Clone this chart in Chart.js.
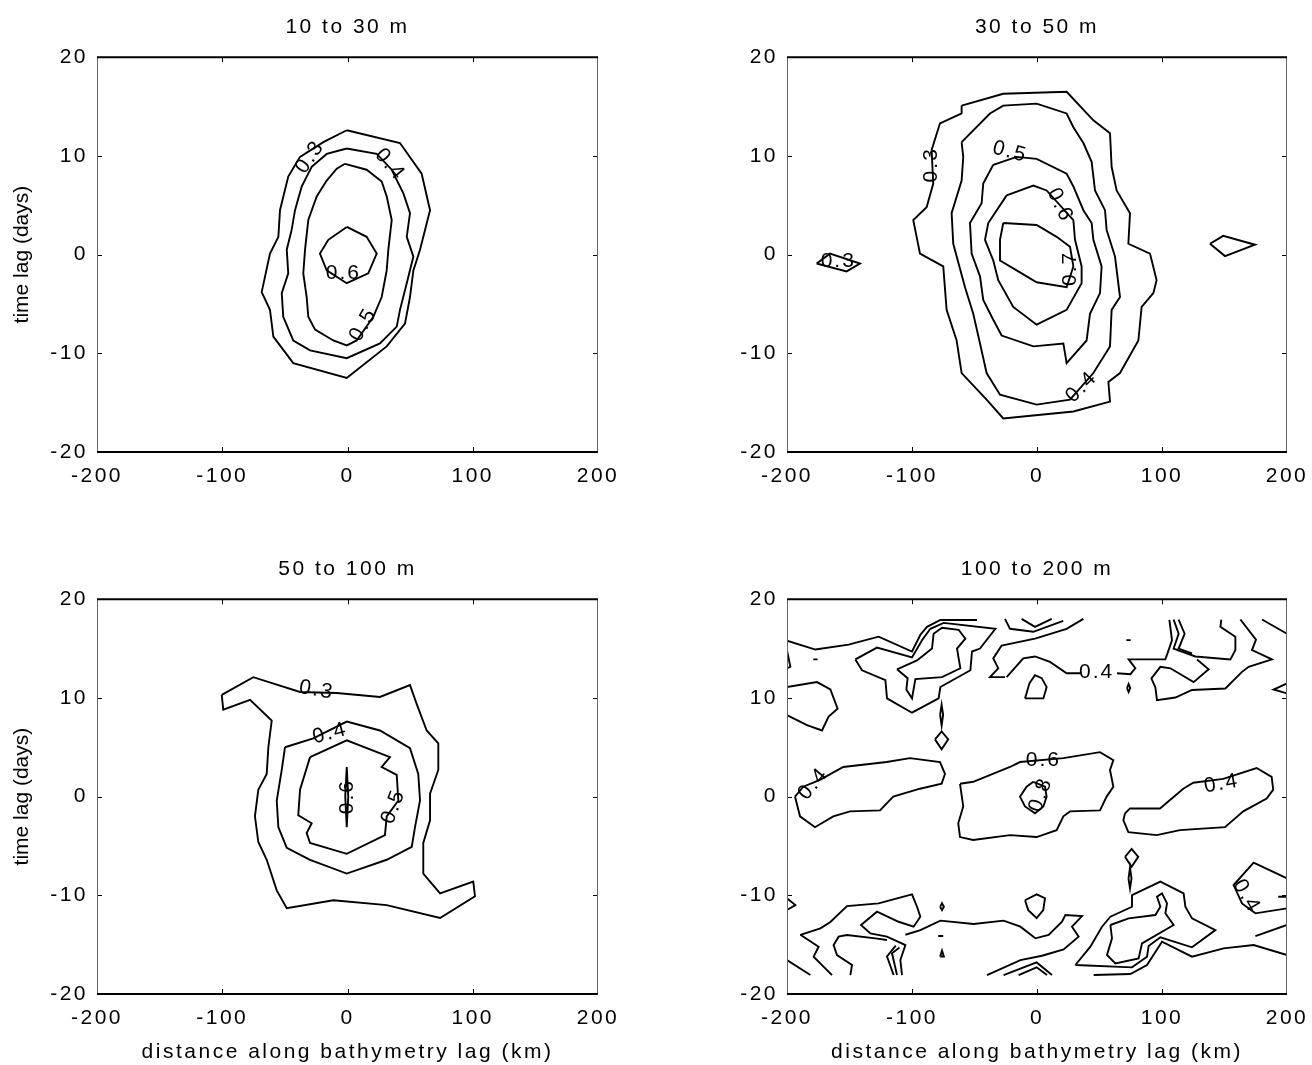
<!DOCTYPE html>
<html>
<head>
<meta charset="utf-8">
<script src="https://cdn.jsdelivr.net/npm/chart.js@4.4.1/dist/chart.umd.min.js"></script>
<style>
body { margin: 0; background: #fff; }
#wrap { position: relative; width: 1312px; height: 1065px; }
canvas { position: absolute; }
</style>
</head>
<body>
<div id="wrap">
  <canvas id="c1" style="left:0;top:0;width:620px;height:542px" width="620" height="542"></canvas>
  <canvas id="c2" style="left:690px;top:0;width:622px;height:542px" width="622" height="542"></canvas>
  <canvas id="c3" style="left:0;top:542px;width:620px;height:523px" width="620" height="523"></canvas>
  <canvas id="c4" style="left:690px;top:542px;width:622px;height:523px" width="622" height="523"></canvas>
</div>
<script>
// axis ticks
const xTicks = [-200, -100, 0, 100, 200];
const yTicks = [-20, -10, 0, 10, 20];
const titles = ["10 to 30 m", "30 to 50 m", "50 to 100 m", "100 to 200 m"];

// 10 to 30 m contours [lag km, lag days]
const p1_03 = [[-0.6,12.6],[41.9,11.3],[59.2,8.2],[65.9,4.5],[57.9,0.5],[52.6,-1.6],[49.9,-4.3],[45.9,-7.0],[31.3,-9.3],[-0.6,-12.5],[-43.3,-11.0],[-59.2,-8.3],[-61.9,-5.6],[-68.5,-3.8],[-61.9,0.1],[-55.2,1.8],[-53.9,4.5],[-47.3,7.9],[-37.9,9.9],[-19.3,11.4],[-0.6,12.6]];
const p1_04 = [[-0.6,10.75],[23.3,10.2],[35.3,8.6],[44.6,6.2],[49.9,4.2],[47.3,1.8],[52.6,-0.2],[47.3,-2.9],[41.9,-5.6],[39.3,-7.3],[25.9,-9.0],[-0.6,-10.5],[-29.9,-9.7],[-43.3,-8.7],[-51.3,-6.3],[-52.5,-3.9],[-47.3,-1.9],[-48.5,0.5],[-44.6,2.5],[-41.9,4.5],[-36.6,6.9],[-28.6,8.9],[-16.6,10.2],[-0.6,10.75]];
const p1_05 = [[-2.0,9.2],[15.3,8.6],[27.3,7.4],[31.3,5.9],[35.3,3.5],[32.6,0.5],[31.3,-1.6],[27.3,-4.3],[20.6,-6.3],[7.3,-8.7],[-0.6,-9.2],[-11.3,-8.7],[-25.9,-7.6],[-31.3,-6.3],[-32.6,-4.3],[-35.3,-1.9],[-33.9,0.5],[-31.3,3.5],[-24.6,5.9],[-16.6,7.5],[-8.6,8.7],[-2.0,9.2]];
const p1_06 = [[-0.6,2.8],[15.3,1.8],[23.3,0.1],[16.6,-1.9],[-0.6,-2.9],[-16.6,-1.6],[-22.0,0.1],[-15.3,1.5],[-0.6,2.8]];
const p1_labels = [["0.3",-29.9,9.9,-55],["0.4",33.9,9.1,50],["0.6",-3.3,-1.9,0],["0.5",12.6,-7.1,-60]];

// 30 to 50 m
const p2_03 = [[-60.3,15.1],[-27.0,16.3],[23.7,16.5],[45.1,13.6],[58.4,12.3],[59.7,8.9],[63.7,6.5],[74.4,4.2],[73.1,1.1],[90.4,0.1],[95.7,-2.6],[93.1,-3.9],[83.7,-5.3],[81.1,-8.7],[66.4,-12.0],[57.1,-12.9],[58.4,-14.9],[29.1,-15.9],[-27.0,-16.6],[-40.3,-14.7],[-60.3,-12.0],[-64.3,-8.7],[-72.3,-5.6],[-75.0,-1.2],[-93.6,0.1],[-96.3,1.8],[-99.0,3.5],[-88.3,4.8],[-83.0,7.2],[-84.3,10.6],[-77.6,13.3],[-60.3,14.3],[-60.3,15.1]];
const p2_03w = [[-176.3,-0.9],[-165.6,0.1],[-141.6,-0.9],[-152.3,-1.7],[-176.3,-0.9]];
const p2_03e = [[138.4,1.1],[149.0,1.9],[174.4,1.0],[150.4,-0.15],[138.4,1.1]];
const p2_04 = [[-60.3,11.4],[-37.6,14.3],[-27.0,15.1],[-0.3,15.3],[23.7,14.3],[29.1,12.9],[37.1,11.3],[43.7,9.4],[46.4,6.5],[54.4,4.5],[55.7,2.5],[62.4,-0.2],[66.4,-4.3],[59.7,-5.6],[58.4,-9.3],[45.1,-12.0],[26.4,-14.7],[-0.3,-15.2],[-29.6,-14.2],[-40.3,-12.0],[-45.6,-9.0],[-51.0,-6.0],[-57.6,-3.3],[-67.0,1.1],[-68.3,4.2],[-60.3,7.5],[-59.0,9.9],[-60.3,11.4]];
const p2_05 = [[-35.0,9.1],[-16.3,9.9],[-0.3,9.7],[23.7,8.2],[29.1,6.9],[37.1,4.5],[43.7,3.2],[45.1,1.5],[51.7,-1.2],[50.4,-3.9],[42.4,-6.0],[39.7,-8.7],[23.7,-11.0],[21.1,-9.0],[-2.9,-9.3],[-28.3,-8.2],[-35.0,-6.6],[-43.0,-4.6],[-45.6,-2.2],[-52.3,0.1],[-53.6,3.2],[-44.3,5.2],[-43.0,7.2],[-35.0,9.1]];
const p2_06 = [[-24.3,6.0],[-2.9,7.0],[7.7,6.5],[29.1,3.5],[30.4,1.5],[35.7,-1.2],[35.7,-2.9],[23.7,-5.6],[-0.3,-7.1],[-19.0,-5.3],[-31.0,-2.6],[-35.0,-0.6],[-41.6,1.5],[-39.0,3.2],[-24.3,6.0]];
const p2_07 = [[-27.0,3.2],[-0.3,3.0],[15.7,1.8],[26.4,0.8],[29.1,-1.2],[23.7,-3.3],[-0.3,-2.8],[-16.3,-1.6],[-29.6,-0.6],[-29.6,1.5],[-27.0,3.2]];
const p2_labels = [["0.3",-84.3,9.1,-90],["0.5",-21.6,10.4,15],["0.6",18.4,5.0,65],["0.7",26.4,-1.4,-90],["0.4",35.7,-13.4,-45],["0.3",-159,-0.7,0]];

// 50 to 100 m
const p3_03 = [[-100.4,10.3],[-75.2,12.1],[-37.9,10.6],[-8.6,10.5],[25.9,10.1],[49.9,11.3],[55.2,9.4],[63.2,6.7],[72.5,5.4],[72.5,2.7],[65.9,0.3],[65.9,-2.4],[60.5,-4.7],[60.5,-7.8],[73.9,-9.8],[100.4,-8.6],[101.8,-10.1],[73.9,-12.3],[31.3,-11.0],[-11.3,-10.5],[-48.5,-11.3],[-56.5,-9.5],[-64.5,-6.4],[-71.2,-4.6],[-73.9,-2.0],[-71.2,0.7],[-64.5,2.3],[-63.2,5.0],[-60.5,7.7],[-77.8,9.8],[-99.2,8.8],[-100.4,10.3]];
const p3_04 = [[-49.9,5.0],[-27.3,5.9],[-0.6,7.6],[25.9,6.7],[49.9,4.9],[56.5,2.3],[57.9,-0.4],[53.9,-3.1],[51.3,-5.1],[31.3,-6.4],[-0.6,-7.8],[-29.9,-6.4],[-48.5,-5.2],[-55.2,-3.1],[-56.5,-0.4],[-52.5,2.7],[-49.9,5.0]];
const p3_05 = [[-29.9,4.0],[-0.6,5.7],[33.9,4.0],[27.3,3.0],[39.3,2.2],[40.6,-0.4],[31.3,-2.0],[29.9,-3.9],[-0.6,-5.8],[-29.9,-4.7],[-32.6,-3.7],[-28.6,-2.7],[-39.3,-1.9],[-37.9,0.7],[-29.9,4.0]];
const p3_06 = [[-0.6,3.0],[0.6,0.0],[-0.6,-3.1],[-1.8,0.0],[-0.6,3.0]];
const p3_labels = [["0.3",-24.6,10.8,10],["0.4",-14,6.4,-15],["0.5",36.6,-1.0,-70],["0.6",-0.6,0,-90]];

// 100 to 200 m
const p4_a = [[-200,15.8],[-177.3,14.9],[-150.7,15.4],[-126.7,16.2],[-100,14.7],[-93.3,16.4],[-88,17.2],[-77.3,17.9],[-48,17.9]];
const p4_b = [[-145.3,13.9],[-128,15.1],[-100,14.1],[-92,15.85],[-85.3,17.0],[-74.7,17.6],[-33.3,17.0],[-45.6,15.0],[-52,14.7],[-53.3,12.8],[-77.3,11.1],[-78.7,9.95],[-100,8.5],[-120,9.95],[-121.3,11.8],[-140,12.8],[-145.3,13.9]];
const p4_c = [[-112,12.9],[-96,13.8],[-84,15.0],[-82.7,16.5],[-76,17.1],[-62.7,16.9],[-57.3,16.0],[-64,15.0],[-61.3,13.0],[-76,12.1],[-97.3,11.9],[-100,9.95],[-104.5,10.85],[-103.5,12.0],[-112,12.9]];
const p4_d = [[-200,11.1],[-176,11.6],[-165.3,10.85],[-159.5,8.9],[-166.7,8.1],[-172,6.7],[-184,7.25],[-200,8.25]];
const p4_e = [[-200,14.8],[-197.3,13.15],[-200,13.0]];
const p4_f = [[-179,13.9],[-175.5,13.9]];
const p4_g = [[-25.6,18.0],[-21.6,17.0],[-3,16.7],[21,17.8]];
const p4_h = [[-12.3,18.0],[-1.6,17.2],[11.8,18.0]];
const p4_i = [[-25.6,12.1],[-37.6,12.1],[-31,13.0],[-35,14.0],[-28.3,15.3],[-1.6,16.0],[23.7,17.0],[37.1,18.0]];
const p4_j = [[-24.3,12.1],[-11,14.0],[-1.6,14.2],[10.4,13.65],[23.7,12.5],[34.4,12.5]];
const p4_k = [[64,12.5],[74.7,12.4],[78.7,13.0],[73.3,13.9],[102.7,13.9],[105.3,14.84],[108,15.85],[105.9,17.9]];
const p4_l = [[-9.6,9.95],[-6,11.5],[-1.6,12.3],[3.8,12.0],[7.7,11.1],[5.1,9.95],[-9.6,9.95]];
const p4_m = [[109.3,17.94],[113.3,16.5],[109.3,15.0],[126.7,14.2],[154.7,13.9],[158.7,14.84],[158.7,16.2],[146.7,17.2],[147.5,17.94]];
const p4_n = [[113.3,17.94],[118.1,16.5],[113.3,15.0],[124,14.5]];
const p4_o = [[162.7,17.94],[175.2,15.9],[172,14.84],[188,13.9],[169.3,13.15],[164,12.64],[150.7,10.95],[124,10.8],[110.7,10.04],[96,9.77],[94.7,11.06],[91.5,11.97],[98.7,13.15],[106.7,13.0],[125.3,11.6],[137.3,12.9],[128,13.9]];
const p4_p = [[180,17.94],[200,16.5]];
const p4_q = [[200,11.46],[189.3,10.85],[200,10.45]];
const p4_r = [[72,11.0],[73.3,11.4],[74.6,11.0],[73.3,10.6],[72,11.0]];
const p4_s = [[71.5,15.85],[75,15.85]];
const p4_t = [[-81.6,5.8],[-76.3,6.6],[-71,5.8],[-76.3,4.8],[-81.6,5.8]];
const p4_u = [[-77.5,8.3],[-76.3,9.3],[-75.1,8.3],[-76.3,7.2],[-77.5,8.3]];
const p4_mid = [[-61.6,1.3],[-51,1.5],[-21.6,3.0],[-13.6,3.5],[21.1,3.9],[50.4,4.5],[61.1,3.7],[58.4,2.7],[61.1,1.0],[55.7,0.0],[50.4,-1.4],[26.4,-1.5],[21.1,-2.0],[15.7,-3.4],[-0.3,-4.1],[-21.6,-3.9],[-51,-4.4],[-61.6,-4.1],[-63,-2.7],[-59,-1.0],[-61.6,1.3]];
const p4_core = [[-2.9,1.5],[6.4,1.0],[7.7,0.0],[5.1,-1.0],[-1.6,-1.7],[-9.6,-1.0],[-13.6,0.0],[-8.3,1.0],[-2.9,1.5]];
const p4_west = [[-193.6,0.0],[-187,1.0],[-173.6,1.7],[-155,3.0],[-120.3,3.5],[-101.6,3.9],[-77.6,3.5],[-73.6,2.3],[-76.3,1.3],[-93.6,0.8],[-115,0.0],[-125.6,-1.4],[-149.6,-1.5],[-163,-2.0],[-177.6,-3.1],[-189.6,-2.0],[-193.6,0.0]];
const p4_east = [[70.4,-1.7],[74.4,-1.2],[98.4,-1.2],[117,0.8],[125,1.4],[149,1.8],[175.7,2.9],[187.7,2.0],[189,0.7],[183.7,-0.2],[165,-1.5],[150.4,-3.1],[114.4,-3.4],[95.7,-3.9],[73.1,-3.6],[69.1,-2.4],[70.4,-1.7]];
const p4_v = [[70.4,-6.1],[75.7,-5.3],[81,-6.1],[75.7,-7.1],[70.4,-6.1]];
const p4_w = [[73.2,-8.3],[74.4,-7.2],[75.6,-8.3],[74.4,-9.3],[73.2,-8.3]];
const p4_b1 = [[-200,-10.3],[-193.3,-10.99],[-200,-11.49]];
const p4_b2 = [[-189.3,-14.0],[-173.3,-13.35],[-165.3,-12.7],[-152,-11.09],[-126.7,-10.82],[-100,-9.91],[-96,-11.16],[-93.3,-12.17],[-98.7,-13.18],[-110.7,-12.68],[-128,-11.66],[-140.8,-13.01],[-133.3,-13.86],[-120,-14.19],[-105.3,-15.04],[-109.3,-16.56],[-108,-18.08]];
const p4_b3 = [[-110,-15.3],[-116,-15.88],[-112,-18.08]];
const p4_b4 = [[-113,-15.1],[-120,-16.2],[-114.7,-18.08]];
const p4_b5 = [[-189.3,-14.0],[-174.7,-15.21],[-178.7,-16.22],[-164,-18.08]];
const p4_b6 = [[-200,-16.56],[-181.3,-18.08]];
const p4_b7 = [[-120,-14.53],[-129.3,-14.36],[-152,-14.02],[-158.7,-14.19],[-162.7,-15.04],[-160,-16.05],[-148,-17.06],[-149.3,-18.08]];
const p4_b8 = [[-105.3,-14.0],[-93.3,-13.52],[-77.3,-12.57],[-50.7,-12.91],[-26.7,-12.57],[-13.3,-13.18],[-1.3,-14.36],[9.3,-14.02],[20,-12.67],[22.7,-12.0],[36,-12.1],[28,-13.18],[33.3,-14.19],[21.3,-15.48],[4,-16.12],[-13.3,-16.56],[-40,-18.08]];
const p4_b9 = [[-26.7,-18.08],[-0.3,-16.8],[12,-18.08]];
const p4_b10 = [[-14.7,-18.08],[-0.3,-17.3],[8,-18.08]];
const p4_b11 = [[-9.6,-10.5],[-0.3,-9.9],[6.4,-10.3],[5,-11.5],[-0.3,-12.3],[-7,-11.5],[-9.6,-10.5]];
const p4_b12 = [[30.7,-17.06],[42.7,-15.21],[52,-13.18],[58.7,-12.17],[76,-11.16],[76,-9.98],[98.7,-8.62],[117.3,-9.81],[118.7,-11.16],[124,-12.34],[142.7,-13.52],[124,-15.27],[98.7,-14.26],[89.3,-15.14],[88,-16.22],[76,-17.3],[30.7,-17.06]];
const p4_b13 = [[58.7,-13.01],[73.3,-12.34],[94.7,-12.0],[98.7,-11.16],[96,-10.14],[100,-9.81],[104,-10.82],[102.7,-11.83],[109.3,-13.01],[84,-14.87],[81.3,-16.39],[62.7,-16.9],[56,-16.05],[60,-14.36],[58.7,-13.01]];
const p4_b14 = [[45.3,-18.08],[74.7,-17.97],[88,-17.06],[100,-14.7],[124,-16.22],[149.3,-15.38],[173.3,-15.04],[200,-16.05]];
const p4_b15 = [[200,-8.29],[173.3,-6.7],[157.3,-8.96],[164,-10.82],[174.7,-11.83],[200,-11.32]];
const p4_b16 = [[174.7,-14.13],[200,-13.01]];
const p4_b17 = [[-77.5,-11.16],[-76,-10.8],[-74.5,-11.16],[-76,-11.5],[-77.5,-11.16]];
const p4_b18 = [[-79,-14.13],[-75,-14.13]];
const p4_b19 = [[-77.5,-16.2],[-76,-15.6],[-74.5,-16.2],[-77.5,-16.2]];
const p4_b20 = [[193,-10.14],[200,-10.14]];
const p4_labels = [["0.4",47.7,12.6,0],["0.6",5.1,3.7,0],["0.8",3,0.2,-70],["0.4",-179,1.3,-50],["0.4",147.7,1.3,-10],["0.4",167.7,-10.1,60]];

const panels = [
  {id: "c1", lines: [p1_03, p1_04, p1_05, p1_06], labels: p1_labels, left: true, bottom: false},
  {id: "c2", lines: [p2_03, p2_03w, p2_03e, p2_04, p2_05, p2_06, p2_07], labels: p2_labels, left: false, bottom: false},
  {id: "c3", lines: [p3_03, p3_04, p3_05, p3_06], labels: p3_labels, left: true, bottom: true},
  {id: "c4", lines: [p4_a, p4_b, p4_c, p4_d, p4_e, p4_f, p4_g, p4_h, p4_i, p4_j, p4_k, p4_l, p4_m, p4_n, p4_o, p4_p, p4_q, p4_r, p4_s, p4_t, p4_u,
                     p4_mid, p4_core, p4_west, p4_east, p4_v, p4_w,
                     p4_b1, p4_b2, p4_b3, p4_b4, p4_b5, p4_b6, p4_b7, p4_b8, p4_b9, p4_b10, p4_b11, p4_b12, p4_b13, p4_b14, p4_b15, p4_b16, p4_b17, p4_b18, p4_b19, p4_b20],
   labels: p4_labels, left: false, bottom: true},
];

const FONT = "'Liberation Sans', Arial, sans-serif";
Chart.defaults.font.family = FONT;
Chart.defaults.font.size = 21;
Chart.defaults.color = "#000";

//wide, spaced lettering like the matlab export
const spacingPlugin = {
  id: "spacing",
  beforeDraw(chart) {
    chart.ctx.letterSpacing = "2.5px";
  },
};

//box, inward ticks, y title and contour labels
const framePlugin = {
  id: "frame",
  afterDatasetsDraw(chart, args, opts) {
    const ctx = chart.ctx;
    const a = chart.chartArea;
    const sx = chart.scales.x, sy = chart.scales.y;
    ctx.save();
    ctx.strokeStyle = "#000";
    ctx.lineWidth = 1;
    xTicks.slice(1, -1).forEach(v => {
      const px = Math.round(sx.getPixelForValue(v)) + 0.5;
      ctx.beginPath();
      ctx.moveTo(px, a.bottom); ctx.lineTo(px, a.bottom - 5);
      ctx.moveTo(px, a.top); ctx.lineTo(px, a.top + 5);
      ctx.stroke();
    });
    yTicks.slice(1, -1).forEach(v => {
      const py = Math.round(sy.getPixelForValue(v)) + 0.5;
      ctx.beginPath();
      ctx.moveTo(a.left, py); ctx.lineTo(a.left + 5, py);
      ctx.moveTo(a.right, py); ctx.lineTo(a.right - 5, py);
      ctx.stroke();
    });
    ctx.strokeStyle = "#666";
    ctx.beginPath();
    ctx.moveTo(a.left + 0.5, a.top); ctx.lineTo(a.left + 0.5, a.bottom);
    ctx.moveTo(a.right - 0.5, a.top); ctx.lineTo(a.right - 0.5, a.bottom);
    ctx.stroke();
    ctx.strokeStyle = "#000";
    ctx.lineWidth = 2;
    ctx.beginPath();
    ctx.moveTo(a.left, a.top); ctx.lineTo(a.right, a.top);
    ctx.moveTo(a.left, a.bottom); ctx.lineTo(a.right, a.bottom);
    ctx.stroke();

    ctx.fillStyle = "#000";
    ctx.textAlign = "center";
    ctx.textBaseline = "middle";
    if (opts.yTitle) {
      ctx.save();
      ctx.letterSpacing = "0px";
      ctx.font = "21px " + FONT;
      ctx.translate(22, (a.top + a.bottom) / 2);
      ctx.rotate(-Math.PI / 2);
      ctx.fillText(opts.yTitle, 0, 0);
      ctx.restore();
    }
    ctx.font = "21px " + FONT;
    ctx.letterSpacing = "2px";
    (opts.labels || []).forEach(l => {
      ctx.save();
      ctx.translate(sx.getPixelForValue(l[1]), sy.getPixelForValue(l[2]));
      ctx.rotate(l[3] * Math.PI / 180);
      ctx.fillText(l[0], 0, 0);
      ctx.restore();
    });
    ctx.restore();
  }
};

panels.forEach((p, i) => {
  let canvas = document.getElementById(p.id);
  let datasets = p.lines.map(pts => ({
    data: pts.map(q => ({x: q[0], y: q[1]})),
    showLine: true,
    borderColor: "#000",
    borderWidth: 1.9,
    pointRadius: 0,
    pointHoverRadius: 0,
    fill: false,
    tension: 0,
  }));
  let xHeight = p.bottom ? 71 : 90;

  new Chart(canvas, {
    type: "scatter",
    data: {datasets: datasets},
    options: {
      responsive: false,
      animation: false,
      events: [],
      layout: {padding: {left: 0, right: p.left ? 22 : 25, top: 0, bottom: 0}},
      plugins: {
        legend: {display: false},
        tooltip: {enabled: false},
        title: {
          display: true,
          text: titles[i],
          fullSize: false,
          color: "#000",
          font: {size: 21, weight: "normal"},
          padding: {top: 15, bottom: 17},
        },
        frame: {labels: p.labels, yTitle: p.left ? "time lag (days)" : null},
      },
      scales: {
        x: {
          type: "linear",
          min: -200,
          max: 200,
          afterBuildTicks: s => { s.ticks = xTicks.map(v => ({value: v})); },
          ticks: {padding: 12, maxRotation: 0, autoSkip: false},
          grid: {display: false, drawTicks: false},
          border: {display: false},
          title: {display: p.bottom, text: "distance along bathymetry lag (km)", padding: {top: 0, bottom: 0}},
          afterFit: s => { s.height = xHeight; s.paddingLeft = 0; s.paddingRight = 0; },
        },
        y: {
          type: "linear",
          min: -20,
          max: 20,
          afterBuildTicks: s => { s.ticks = yTicks.map(v => ({value: v})); },
          ticks: {padding: 9, autoSkip: false},
          grid: {display: false, drawTicks: false},
          border: {display: false},
          title: {display: false},
          afterFit: s => { s.width = 97; s.paddingTop = 0; s.paddingBottom = 0; },
        },
      },
    },
    plugins: [spacingPlugin, framePlugin],
  });
});
</script>
</body>
</html>
